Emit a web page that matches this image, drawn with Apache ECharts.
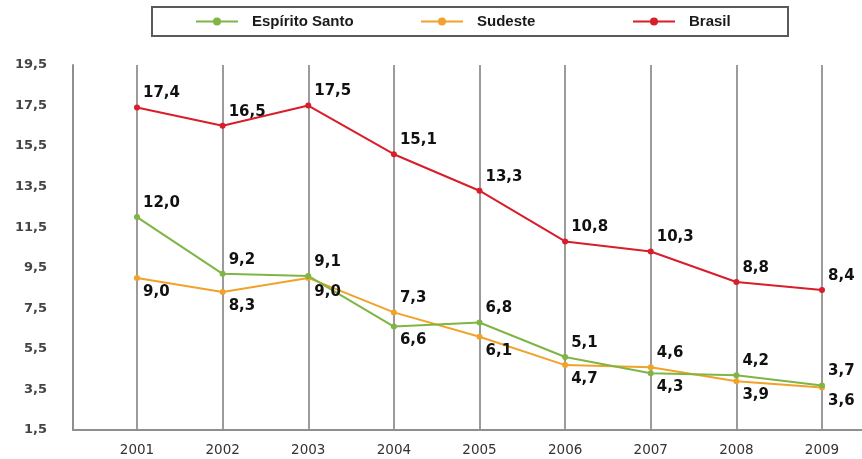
<!DOCTYPE html>
<html>
<head>
<meta charset="utf-8">
<script src="https://cdn.jsdelivr.net/npm/echarts@6/dist/echarts.min.js"></script>
<style>
  html, body { margin: 0; padding: 0; background: #ffffff; }
  #chart { width: 862px; height: 459px; }
</style>
</head>
<body>
<div id="chart"></div>
<script>
// Years on the horizontal axis
const years = ['2001', '2002', '2003', '2004', '2005', '2006', '2007', '2008', '2009'];

// Rates per series
const espiritoSanto = [12.0, 9.2, 9.1, 6.6, 6.8, 5.1, 4.3, 4.2, 3.7];
const sudeste = [9.0, 8.3, 9.0, 7.3, 6.1, 4.7, 4.6, 3.9, 3.6];
const brasil = [17.4, 16.5, 17.5, 15.1, 13.3, 10.8, 10.3, 8.8, 8.4];

// Vertical axis tick labels
const yTickLabels = ['1,5', '3,5', '5,5', '7,5', '9,5', '11,5', '13,5', '15,5', '17,5', '19,5'];

// Years whose value label sits below the point instead of above
const esLabelBelow = ['2004', '2007'];
const sudesteLabelAbove = ['2004', '2007'];

const fmt = v => v.toFixed(1).replace('.', ',');

function withLabels(values, isBelow) {
  return values.map((v, i) => ({
    value: v,
    label: { offset: isBelow(years[i]) ? [0, 14] : [0, -14] }
  }));
}

const chart = echarts.init(document.getElementById('chart'), null, { renderer: 'canvas' });

const pointLabel = {
  show: true,
  position: 'right',
  distance: 3,
  color: '#111',
  fontFamily: 'DejaVu Sans',
  fontWeight: 'bold',
  fontSize: 15,
  formatter: p => fmt(p.value)
};

const legendText = {
  color: '#1a1a1a',
  fontFamily: 'Liberation Sans',
  fontWeight: 'bold',
  fontSize: 15,
  padding: [0, 0, 0, 9]
};

function legendAt(name, left) {
  return {
    data: [name],
    left: left,
    top: 14,
    padding: 0,
    itemWidth: 42,
    itemHeight: 10,
    selectedMode: false,
    textStyle: legendText
  };
}

const option = {
  backgroundColor: '#ffffff',
  animation: false,
  graphic: [{
    type: 'rect',
    z: -1,
    shape: { x: 152, y: 7, width: 636, height: 29 },
    style: { fill: '#ffffff', stroke: '#5a5a5a', lineWidth: 2 }
  }],
  legend: [
    legendAt('Espírito Santo', 195),
    legendAt('Sudeste', 420),
    legendAt('Brasil', 632)
  ],
  grid: [
    { left: 73, right: 0, top: 65, bottom: 29 },
    { left: 137, right: 40, top: 65, bottom: 29 }
  ],
  xAxis: [
    {
      gridIndex: 0, type: 'value', min: 0, max: 1,
      axisLine: { show: true, lineStyle: { color: '#8f8f8f', width: 2 } },
      axisTick: { show: false }, axisLabel: { show: false }, splitLine: { show: false }
    },
    {
      gridIndex: 1, type: 'category', data: years, boundaryGap: false,
      axisLine: { show: false }, axisTick: { show: false },
      splitLine: { show: true, lineStyle: { color: '#7a7a7a', width: 1.5 } },
      axisLabel: { color: '#333', fontFamily: 'DejaVu Sans', fontSize: 13.5, margin: 13 }
    }
  ],
  yAxis: [
    {
      gridIndex: 0, type: 'value', min: 1.5, max: 19.5, interval: 0.5,
      axisLine: { show: true, lineStyle: { color: '#8f8f8f', width: 2 } },
      axisTick: { show: false }, splitLine: { show: false },
      axisLabel: {
        color: '#444', fontFamily: 'DejaVu Sans', fontWeight: 600, fontSize: 13, margin: 26,
        padding: [6, 0, 0, 0],
        formatter: v => { const s = fmt(v); return yTickLabels.includes(s) ? s : ''; }
      }
    },
    { gridIndex: 1, type: 'value', min: 1.5, max: 19.5, show: false }
  ],
  series: [
    {
      name: 'Sudeste', type: 'line', xAxisIndex: 1, yAxisIndex: 1,
      data: withLabels(sudeste, y => !sudesteLabelAbove.includes(y)),
      color: '#f0a22a', symbol: 'circle', symbolSize: 6,
      lineStyle: { width: 2 }, label: pointLabel
    },
    {
      name: 'Espírito Santo', type: 'line', xAxisIndex: 1, yAxisIndex: 1,
      data: withLabels(espiritoSanto, y => esLabelBelow.includes(y)),
      color: '#7fb545', symbol: 'circle', symbolSize: 6,
      lineStyle: { width: 2 }, label: pointLabel
    },
    {
      name: 'Brasil', type: 'line', xAxisIndex: 1, yAxisIndex: 1,
      data: withLabels(brasil, () => false),
      color: '#d81e2a', symbol: 'circle', symbolSize: 6,
      lineStyle: { width: 2 }, label: pointLabel
    }
  ]
};

chart.setOption(option);
</script>
</body>
</html>
